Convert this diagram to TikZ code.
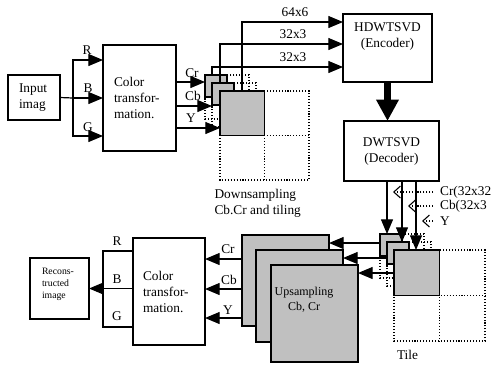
\documentclass[tikz,border=0pt]{standalone}
\usepackage{fontspec}
\setmainfont{Liberation Serif}
\usetikzlibrary{arrows.meta}
\definecolor{chipgray}{HTML}{C0C0C0}

\begin{document}
\begin{tikzpicture}[
  x=0.75pt, y=-0.75pt,
  block/.style={
    draw,
    line width=1pt,
    inner sep=0pt,
    outer sep=0pt,
    align=left
  },
  chip/.style={
    draw,
    fill=chipgray,
    line width=1.1pt,
    inner sep=0pt,
    outer sep=0pt
  },
  tilegrid/.style={
    line width=0.8pt,
    dash pattern=on 0.8pt off 1.4pt
  },
  flow/.style={
    -{Triangle[length=11pt,width=9pt]},
    line width=0.9pt
  },
  feed/.style={
    -{Straight Barb[length=5pt,width=9pt]},
    line width=0.8pt,
    dash pattern=on 0.8pt off 1.4pt
  },
  bigflow/.style={
    -{Triangle[length=16pt,width=16pt]},
    line width=5pt
  },
  lab/.style={inner sep=1pt}
]
\useasboundingbox (0,0) rectangle (495,365);

% encoder side
\node[block, text width=22.5pt, inner xsep=8.25pt, minimum height=33.75pt] (inp) at (34,97.5) {Input\\imag};
\node[block, text width=38.25pt, inner xsep=8.25pt, minimum height=79.5pt] (ct1) at (139.5,98) {Color\\transfor-\\mation.};
\node[block, minimum width=66.75pt, minimum height=51pt,
  label={[anchor=north, align=center, inner sep=0pt, yshift=-6.4pt]north:HDWTSVD\\(Encoder)}] (enc) at (387.5,48) {};
\node[block, align=center, minimum width=71.25pt, minimum height=45pt] (dec) at (391.5,151) {DWTSVD\\(Decoder)};

% decoder side
\node[block, text width=39pt, inner xsep=7.5pt, minimum height=80.25pt] (ct2) at (169,291.5) {Color\\transfor-\\mation.};
\node[block, minimum width=44.25pt, minimum height=45.75pt,
  label={[anchor=north west, align=left, inner sep=0pt, font=\fontsize{7.3}{9}\selectfont, xshift=8.8pt, yshift=-7.1pt]north west:Recons-\\tructed\\image}] (rec) at (59.5,288.5) {};

\node[chip, minimum width=65.25pt, minimum height=68.25pt] (up1) at (285.5,280.5) {};
\node[chip, minimum width=65.25pt, minimum height=69pt] (up2) at (299.5,296) {};
\node[chip, minimum width=65.25pt, minimum height=72.75pt] (up3) at (314.5,313.5) {};
\node[lab, align=center, font=\fontsize{9}{11.25}\selectfont] (uptext) at (304,300) {Upsampling\\Cb, Cr};

% tiles and their blocks
\foreach \nm/\gx/\gy/\gs in {cra/205/75/22, cba/212/83/22, ya/220/91/44.5,
                             crb/380/234/22, cbb/387/242/22, yb/394/250/45.5} {
  \draw[tilegrid] (\gx,\gy) rectangle ++(2*\gs,2*\gs)
    (\gx+\gs,\gy) -- ++(0,2*\gs) (\gx,\gy+\gs) -- ++(2*\gs,0);
  \node[chip, minimum size=\gs*0.75pt, anchor=north west] (\nm) at (\gx,\gy) {};
}

% input to colour transformation
\coordinate (split) at (73,98);
\draw[line width=0.9pt] (inp.east) -- (split);
\foreach \yy in {60,98,136}
  \draw[flow] (split) |- (ct1.west |- 0,\yy);
\node[lab] (lr1) at (87,50) {R};
\node[lab] (lb1) at (88,88) {B};
\node[lab] (lg1) at (88,127) {G};

\draw[flow] (ct1.east |- 0,82) -- (cra.west |- 0,82);
\draw[flow] (ct1.east |- 0,106) -- (cba.west |- 0,106);
\draw[flow] (ct1.east |- 0,128) -- (ya.west |- 0,128);
\node[lab] (lcr1) at (192,73) {Cr};
\node[lab] (lcb1) at (193,96) {Cb};
\node[lab] (ly1) at (191,118) {Y};

\node[lab, anchor=west, align=left] (down) at (213,203) {Downsampling\\Cb.Cr and tiling};

% blocks to encoder
\draw[flow] (cra.north -| 212,0) |- (enc.west |- 0,67);
\draw[flow] (cba.north -| 220,0) |- (enc.west |- 0,44);
\draw[flow] (ya.north -| 242,0) |- (enc.west |- 0,22);
\node[lab] (l64) at (295,12) {64x6};
\node[lab] (l32a) at (293,34) {32x3};
\node[lab] (l32b) at (293,57) {32x3};

\draw[bigflow] (enc.south) -- (enc.south |- dec.north);

% decoder to tiles
\draw[flow] (dec.south -| 387,0) -- (crb.north -| 387,0);
\draw[flow] (dec.south -| 402,0) -- (cbb.north -| 402,0);
\draw[flow] (dec.south -| 416,0) -- (yb.north -| 416,0);

\node[lab, anchor=west] (crin) at (438.5,192) {Cr(32x32};
\node[lab, anchor=west] (cbin) at (438.5,206) {Cb(32x3};
\node[lab, anchor=west] (yin) at (438.5,221) {Y};
\draw[feed] ([xshift=-4pt]crin.west) -- (crin.west -| 393,0);
\draw[feed] ([xshift=-4pt]cbin.west) -- (cbin.west -| 408,0);
\draw[feed] ([xshift=-4pt]yin.west) -- (yin.west -| 422,0);

\node[lab] (tile) at (407.5,355) {Tile};

% tiles to upsampling
\draw[flow] (crb.west |- 0,243) -- (up1.east |- 0,243);
\draw[flow] (cbb.west |- 0,258) -- (up2.east |- 0,258);
\draw[flow] (yb.west |- 0,273) -- (up3.east |- 0,273);

% upsampling to colour transformation
\foreach \yy in {259,289,318}
  \draw[flow] (up1.west |- 0,\yy) -- (ct2.east |- 0,\yy);
\node[lab] (lcr2) at (228,249) {Cr};
\node[lab] (lcb2) at (229,280) {Cb};
\node[lab] (ly2) at (228,310) {Y};

% colour transformation to reconstructed image
\coordinate (merge) at (103,289);
\draw[line width=0.9pt] (ct2.west |- 0,251) -| (merge) |- (ct2.west |- 0,327);
\draw[flow] (ct2.west |- rec.east) -- (rec.east);
\node[lab] (lr2) at (117,241) {R};
\node[lab] (lb2) at (117,279) {B};
\node[lab] (lg2) at (117,316) {G};
\end{tikzpicture}
\end{document}
